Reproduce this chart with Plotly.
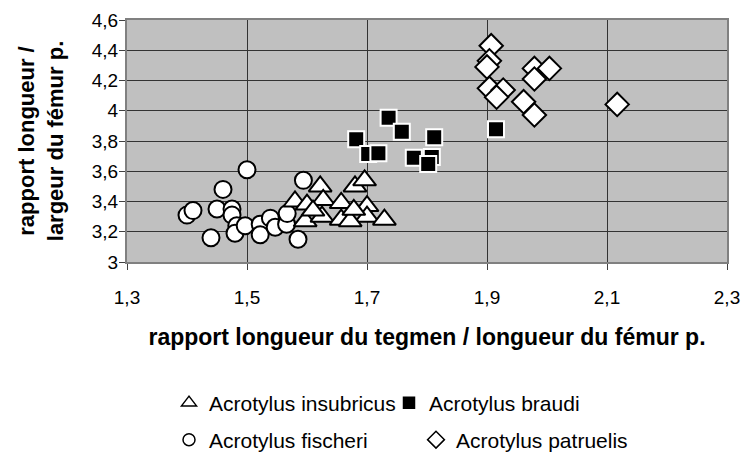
import plotly.graph_objects as go

# ---- data ----
insub_x = [1.580, 1.600, 1.622, 1.627, 1.597, 1.625, 1.657, 1.657, 1.680, 1.696, 1.700, 1.700, 1.729, 1.672, 1.678, 1.610]
insub_y = [3.400, 3.380, 3.500, 3.410, 3.270, 3.300, 3.390, 3.280, 3.500, 3.540, 3.370, 3.300, 3.280, 3.270, 3.345, 3.340]

braudi_x = [1.736, 1.758, 1.682, 1.812, 1.915, 1.702, 1.719, 1.778, 1.808, 1.802]
braudi_y = [3.954, 3.861, 3.811, 3.824, 3.877, 3.714, 3.719, 3.690, 3.694, 3.648]

fisch_x = [1.400, 1.410, 1.440, 1.450, 1.460, 1.475, 1.475, 1.483, 1.480, 1.497, 1.500, 1.522, 1.522, 1.539, 1.547, 1.566, 1.567, 1.585, 1.594]
fisch_y = [3.310, 3.340, 3.160, 3.350, 3.480, 3.350, 3.310, 3.240, 3.190, 3.240, 3.610, 3.250, 3.180, 3.290, 3.230, 3.250, 3.320, 3.150, 3.540]

patr_x = [1.907, 1.904, 1.900, 1.979, 2.004, 1.979, 1.904, 1.927, 1.916, 1.961, 1.979, 2.117]
patr_y = [4.430, 4.330, 4.290, 4.280, 4.280, 4.210, 4.148, 4.137, 4.090, 4.060, 3.972, 4.042]

names = ["Acrotylus insubricus", "Acrotylus braudi", "Acrotylus fischeri", "Acrotylus patruelis"]

x_title = "rapport longueur du tegmen / longueur du fémur p."
y_title = "rapport longueur /<br>largeur du fémur p."

FONT = "Arial, 'Liberation Sans', sans-serif"

fig = go.Figure()

# data traces (fischeri first so triangles overlap circles)
fig.add_trace(go.Scatter(x=fisch_x, y=fisch_y, mode="markers", showlegend=False,
                         marker=dict(symbol="circle", size=17, color="white",
                                     line=dict(color="black", width=2))))
fig.add_trace(go.Scatter(x=insub_x, y=insub_y, mode="markers", showlegend=False,
                         marker=dict(symbol="triangle-up", size=20, color="white",
                                     line=dict(color="black", width=2))))
fig.add_trace(go.Scatter(x=braudi_x, y=braudi_y, mode="markers", showlegend=False,
                         marker=dict(symbol="square", size=16, color="black",
                                     line=dict(color="white", width=2))))
fig.add_trace(go.Scatter(x=patr_x, y=patr_y, mode="markers", showlegend=False,
                         marker=dict(symbol="diamond", size=18, color="white",
                                     line=dict(color="black", width=2))))

# legend-only entries, one legend each for free placement
leg_specs = [
    (names[0], "triangle-up", 13, "white", "legend"),
    (names[1], "square", 11, "black", "legend2"),
    (names[2], "circle", 12, "white", "legend3"),
    (names[3], "diamond", 13, "white", "legend4"),
]
for nm, sym, sz, fc, lg in leg_specs:
    fig.add_trace(go.Scatter(x=[None], y=[None], mode="markers", name=nm, legend=lg,
                             marker=dict(symbol=sym, size=sz, color=fc,
                                         line=dict(color="black", width=1.5))))

def px_x(p):
    return (p - 127) / 600.0

def px_y(p):
    return (262 - p) / 242.0

leg_common = dict(font=dict(family=FONT, size=21, color="black"), bgcolor="rgba(0,0,0,0)",
                  orientation="h", xanchor="left", yanchor="middle", itemwidth=30)

fig.update_layout(
    width=747, height=457,
    margin=dict(l=127, r=20, t=20, b=195, autoexpand=False),
    paper_bgcolor="white", plot_bgcolor="#C0C0C0",
    separators=", ",
    font=dict(family=FONT, size=19, color="black"),
    legend=dict(x=px_x(169), y=px_y(403), **leg_common),
    legend2=dict(x=px_x(389), y=px_y(403), **leg_common),
    legend3=dict(x=px_x(169), y=px_y(440), **leg_common),
    legend4=dict(x=px_x(416), y=px_y(440), **leg_common),
    xaxis=dict(range=[1.3, 2.3], tick0=1.3, dtick=0.2, showgrid=True, gridcolor="#333333", gridwidth=1,
               showline=True, linecolor="#808080", linewidth=2, mirror=True,
               ticks="outside", ticklen=6, tickcolor="#404040", ticklabelstandoff=11,
               tickfont=dict(family=FONT, size=19), zeroline=False,
               title=dict(text="<b>" + x_title + "</b>", font=dict(family=FONT, size=23), standoff=22)),
    yaxis=dict(range=[3, 4.6], tick0=3, dtick=0.2, showgrid=True, gridcolor="#333333", gridwidth=1,
               showline=True, linecolor="#808080", linewidth=2, mirror=True,
               ticks="outside", ticklen=6, tickcolor="#404040", ticklabelstandoff=-3,
               tickfont=dict(family=FONT, size=19), zeroline=False,
               title=dict(text="<b>" + y_title + "</b>", font=dict(family=FONT, size=22), standoff=22)),
)

fig.write_html("out.html", config={"displayModeBar": False},
               post_script="document.body.style.margin='0px';")
